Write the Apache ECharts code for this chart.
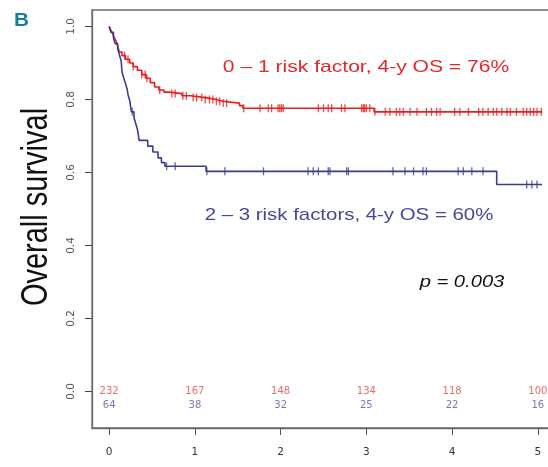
<!DOCTYPE html>
<html><head><meta charset="utf-8">
<script src="https://cdn.jsdelivr.net/npm/echarts@6/dist/echarts.min.js"></script>
<style>html,body{margin:0;padding:0;background:#fff}#c{width:548px;height:467px}</style>
</head><body><div id="c"></div>
<script>
// ---- data ----
const xTicks = [0, 1, 2, 3, 4, 5];
const yTicks = [0, 0.2, 0.4, 0.6, 0.8, 1.0];
const redTimes = [0, 0.02, 0.04, 0.06, 0.08, 0.10, 0.12, 0.15, 0.19, 0.24, 0.28, 0.33, 0.38, 0.43, 0.48, 0.53, 0.58, 0.64, 0.70, 0.85, 0.95, 1.12, 1.25, 1.32, 1.52, 1.56, 3.09, 5.05];
const redSurv  = [1.0, 0.99, 0.98, 0.97, 0.96, 0.945, 0.93, 0.92, 0.91, 0.90, 0.89, 0.88, 0.868, 0.858, 0.846, 0.834, 0.826, 0.82, 0.816, 0.81, 0.805, 0.80, 0.795, 0.79, 0.783, 0.776, 0.766, 0.766];
const blueTimes = [0, 0.02, 0.05, 0.07, 0.10, 0.12, 0.14, 0.15, 0.17, 0.19, 0.21, 0.22, 0.24, 0.26, 0.29, 0.31, 0.33, 0.35, 0.45, 0.51, 0.57, 0.61, 0.65, 1.13, 4.52, 5.05];
const blueSurv  = [1.0, 0.984, 0.969, 0.953, 0.938, 0.922, 0.906, 0.875, 0.859, 0.844, 0.828, 0.813, 0.797, 0.766, 0.750, 0.734, 0.718, 0.688, 0.672, 0.656, 0.640, 0.627, 0.617, 0.603, 0.567, 0.567];
const redCensor = [0.18, 0.22, 0.28, 0.38, 0.42, 0.44, 0.59, 0.73, 0.77, 0.86, 0.90, 0.98, 1.02, 1.08, 1.12, 1.17, 1.21, 1.25, 1.29, 1.33, 1.37,
  1.57, 1.76, 1.855, 1.895, 1.97, 1.99, 2.01, 2.03, 2.44, 2.50, 2.555, 2.595, 2.71, 2.75, 2.945, 2.965, 2.98, 3.00, 3.04,
  3.10, 3.22, 3.275, 3.35, 3.39, 3.43, 3.51, 3.59, 3.70, 3.76, 3.82, 3.86, 4.03, 4.09, 4.19, 4.31, 4.36, 4.42, 4.48, 4.52,
  4.58, 4.64, 4.68, 4.75, 4.83, 4.87, 4.91, 4.95, 4.99, 5.04];
const blueCensor = [0.27, 0.67, 0.77, 1.14, 1.35, 1.80, 2.32, 2.38, 2.44, 2.555, 2.575, 2.77, 2.79, 3.31, 3.45, 3.55, 3.66, 3.70, 4.07, 4.13, 4.23, 4.36, 4.87, 4.93, 4.99];
const riskTimes = [0, 1, 2, 3, 4, 5];
const redAtRisk = [232, 167, 148, 134, 118, 100];
const blueAtRisk = [64, 38, 32, 25, 22, 16];
const redLabel = '0 \u2013 1 risk factor, 4-y OS = 76%';
const blueLabel = '2 \u2013 3 risk factors, 4-y OS = 60%';
const pLabel = 'p = 0.003';
const yTitle = 'Overall survival';
const panelLabel = 'B';

// ---- helpers ----
const RED = '#ee1c1c', BLUE = '#3b3d8f';
const X_MIN = -0.2, X_MAX = 5.2, Y_MIN = -0.1, Y_MAX = 1.045;
function pairs(ts, ss) { return ts.map((t, i) => [t, ss[i]]); }
function survAt(ts, ss, t) { let s = ss[0]; for (let i = 0; i < ts.length; i++) { if (ts[i] <= t) s = ss[i]; } return s; }
const FONT = "'Liberation Sans', Arial, sans-serif";

const textEls = [
  { type: 'text', x: 366, y: 67, scaleX: 1.27, style: { text: redLabel, fill: '#e8262a', font: '16.6px ' + FONT, textAlign: 'center', textVerticalAlign: 'middle', verticalAlign: 'middle' } },
  { type: 'text', x: 349, y: 215, scaleX: 1.23, style: { text: blueLabel, fill: '#44479a', font: '16.6px ' + FONT, textAlign: 'center', textVerticalAlign: 'middle', verticalAlign: 'middle' } },
  { type: 'text', x: 462, y: 283, scaleX: 1.26, style: { text: pLabel, fill: '#111', font: 'italic 16px ' + FONT, textAlign: 'center', textVerticalAlign: 'middle', verticalAlign: 'middle' } },
  { type: 'text', x: 37, y: 207, rotation: Math.PI / 2, scaleY: 1.26, style: { text: yTitle, fill: '#111', font: '29px ' + FONT, textAlign: 'center', textVerticalAlign: 'middle', verticalAlign: 'middle' } },
  { type: 'text', x: 21.5, y: 21, scaleX: 1.15, style: { text: panelLabel, fill: '#1b7c9c', font: 'bold 18px ' + FONT, textAlign: 'center', textVerticalAlign: 'middle', verticalAlign: 'middle' } }
];

const chart = echarts.init(document.getElementById('c'), null, { renderer: 'canvas' });
chart.setOption({
  animation: false,
  backgroundColor: '#fff',
  grid: { left: 92, top: 10, width: 463, height: 418, show: true, borderColor: '#6a6a6a', borderWidth: 1.3, containLabel: false, outerBoundsMode: 'none' },
  xAxis: {
    type: 'value', min: X_MIN, max: X_MAX,
    axisLine: { show: true, onZero: false, lineStyle: { color: '#6a6a6a', width: 1.3 } },
    splitLine: { show: false },
    axisTick: { show: true, length: 7, lineStyle: { color: '#555' }, customValues: xTicks },
    axisLabel: { color: '#333', fontSize: 10.5, fontFamily: "'DejaVu Sans', sans-serif", margin: 19, customValues: xTicks, formatter: v => String(v) }
  },
  yAxis: {
    type: 'value', min: Y_MIN, max: Y_MAX,
    axisLine: { show: true, onZero: false, lineStyle: { color: '#6a6a6a', width: 1.3 } },
    splitLine: { show: false },
    axisTick: { show: true, inside: false, length: 7, lineStyle: { color: '#444' }, customValues: yTicks },
    axisLabel: { color: '#555', fontSize: 10.5, fontFamily: "'DejaVu Sans', sans-serif", rotate: 90, margin: 15, customValues: yTicks, formatter: v => v.toFixed(1) }
  },
  series: [
    { type: 'line', step: 'end', showSymbol: false, data: pairs(redTimes, redSurv), lineStyle: { color: RED, width: 1.6 }, z: 3 },
    { type: 'line', step: 'end', showSymbol: false, data: pairs(blueTimes, blueSurv), lineStyle: { color: BLUE, width: 1.6 }, z: 3 },
    { type: 'scatter', symbol: 'rect', symbolSize: [1.3, 8], itemStyle: { color: RED }, data: redCensor.map(t => [t, survAt(redTimes, redSurv, t)]), z: 4 },
    { type: 'scatter', symbol: 'rect', symbolSize: [1.3, 8], itemStyle: { color: BLUE }, data: blueCensor.map(t => [t, survAt(blueTimes, blueSurv, t)]), z: 4 },
    { type: 'scatter', symbolSize: 0, data: riskTimes.map((t, i) => [t, 0, redAtRisk[i]]),
      label: { show: true, position: 'inside', formatter: p => String(p.value[2]), color: '#e24a44', fontSize: 10, fontFamily: "'DejaVu Sans', sans-serif" } },
    { type: 'scatter', symbolSize: 0, data: riskTimes.map((t, i) => [t, -0.038, blueAtRisk[i]]),
      label: { show: true, position: 'inside', formatter: p => String(p.value[2]), color: '#5558a4', fontSize: 10, fontFamily: "'DejaVu Sans', sans-serif" } }
  ],
  graphic: textEls
});

// y-axis tick marks, positioned with the chart's own y scale
const tickEls = yTicks.map(v => {
  const p = chart.convertToPixel({ gridIndex: 0 }, [X_MIN, v]);
  const y = Math.round(p[1]) + 0.5;
  return { type: 'line', z: 100, silent: true, shape: { x1: p[0] - 7, y1: y, x2: p[0], y2: y }, style: { stroke: '#444', lineWidth: 1 } };
});
chart.setOption({ graphic: textEls.concat(tickEls) }, { replaceMerge: ['graphic'] });
</script></body></html>
